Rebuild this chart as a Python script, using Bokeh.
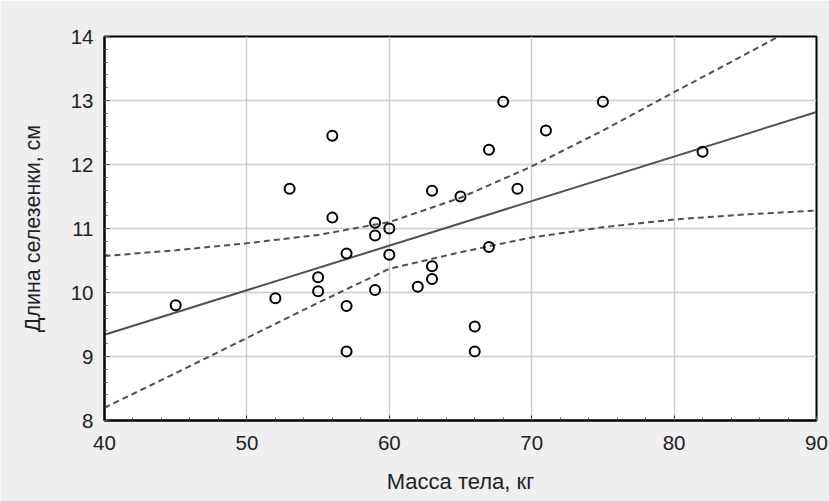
import numpy as np
from bokeh.plotting import figure
from bokeh.models import Range1d, FixedTicker
from bokeh.embed import file_html
from bokeh.resources import INLINE

# Body mass (kg) and spleen length (cm)
mass = [45, 52, 53, 56, 56, 55, 55, 57, 57, 57, 59, 59, 59, 60, 60, 62, 63, 63, 63,
        65, 68, 67, 67, 66, 66, 69, 71, 75, 82]
spleen = [9.80, 9.91, 11.62, 12.45, 11.17, 10.24, 10.02, 10.61, 9.79, 9.08, 11.09, 10.89,
          10.04, 11.00, 10.59, 10.09, 11.59, 10.41, 10.21, 11.50, 12.98, 12.23, 10.71, 9.47,
          9.08, 11.62, 12.53, 12.98, 12.20]

# Regression line (at its two ends)
fit_x = [40, 90]
fit_y = [9.34, 12.82]

# 95% confidence band
band_x = [40, 45, 50, 55, 60, 65, 70, 75, 80, 85, 90]
band_upper = [10.57, 10.66, 10.77, 10.90, 11.10, 11.48, 11.97, 12.53, 13.13, 13.72, 14.32]
band_lower = [8.20, 8.74, 9.29, 9.84, 10.37, 10.63, 10.86, 11.02, 11.14, 11.22, 11.28]

x_ticks = [40, 50, 60, 70, 80, 90]
y_ticks = [8, 9, 10, 11, 12, 13, 14]

FONT = "Liberation Sans, Arial"

p = figure(width=829, height=501, output_backend="svg", toolbar_location=None,
           x_range=Range1d(40, 90), y_range=Range1d(8, 14),
           min_border_left=104, min_border_right=13, min_border_top=36, min_border_bottom=81)
p.background_fill_color = "white"
p.border_fill_color = "#efefef"
p.outline_line_color = "black"
p.outline_line_width = 2

p.xaxis.ticker = FixedTicker(ticks=x_ticks, minor_ticks=list(np.arange(40, 91, 2)))
p.yaxis.ticker = FixedTicker(ticks=y_ticks, minor_ticks=list(np.round(np.arange(8, 14.01, 0.2), 2)))
for ax in (p.xaxis, p.yaxis):
    ax.axis_line_color = "black"
    ax.axis_line_width = 2
    ax.major_tick_in = 5
    ax.major_tick_out = 0
    ax.minor_tick_in = 3
    ax.minor_tick_out = 0
    ax.major_tick_line_color = "#333333"
    ax.minor_tick_line_color = "#555555"
    ax.major_label_text_font = FONT
    ax.major_label_text_font_size = "20.5px"
    ax.major_label_text_color = "#222222"
    ax.axis_label_text_font = FONT
    ax.axis_label_text_font_style = "normal"
    ax.axis_label_text_color = "#222222"
p.xaxis.axis_label_text_font_size = "22px"
p.yaxis.axis_label_text_font_size = "21.5px"
p.xaxis.axis_label = "Масса тела, кг"
p.yaxis.axis_label = "Длина селезенки, см"
p.xaxis.major_label_standoff = 15
p.yaxis.major_label_standoff = 11
p.xaxis.axis_label_standoff = 16
p.yaxis.axis_label_standoff = 23

p.xgrid.grid_line_color = "#cccccc"
p.ygrid.grid_line_color = "#cccccc"
p.xgrid.grid_line_width = 1.5
p.ygrid.grid_line_width = 1.5

p.line(band_x, band_upper, line_color="#505050", line_width=2, line_dash="6 4")
p.line(band_x, band_lower, line_color="#505050", line_width=2, line_dash="6 4")
p.line(fit_x, fit_y, line_color="#505050", line_width=2)
p.scatter(mass, spleen, marker="circle", size=10, fill_color=None,
          line_color="black", line_width=2)

open("out.html", "w").write(file_html(p, INLINE))
